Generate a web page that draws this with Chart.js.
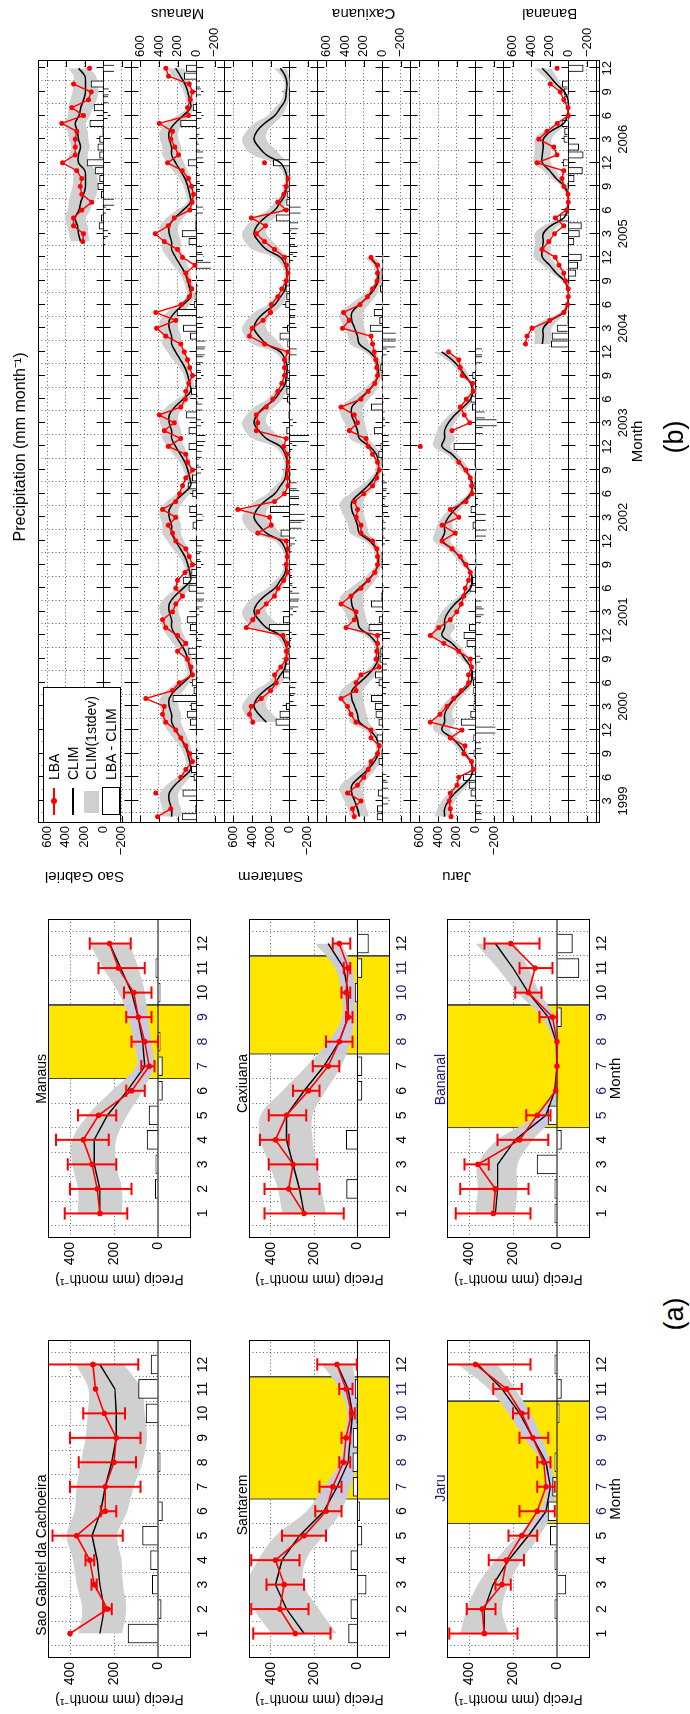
<!DOCTYPE html>
<html>
<head>
<meta charset="utf-8">
<script src="https://cdn.jsdelivr.net/npm/chart.js@4.4.1/dist/chart.umd.min.js"></script>
<style>
  html, body { margin: 0; padding: 0; background: #fff; width: 690px; height: 1714px; overflow: hidden; }
  #fig {
    position: absolute; left: 0; top: 0; width: 1714px; height: 690px;
    transform-origin: 0 0; transform: translate(0, 1714px) rotate(-90deg);
    font-family: "Liberation Sans", Arial, Helvetica, sans-serif; color: #000;
  }
  #fig canvas { position: absolute; }
  .tag { position: absolute; font-size: 27px; line-height: 32px; width: 60px; text-align: center; }
  #legend { position: absolute; left: 891px; top: 43px; width: 136px; height: 78px; box-sizing: border-box;
            border: 1px solid #000; background: #fff; font-size: 14px; }
  #legend div { position: absolute; }
  #legend .tx { left: 42px; line-height: 16px; white-space: nowrap; }
</style>
</head>
<body>
<div id="fig">
  <canvas id="cb" width="894" height="690" style="left:820px;top:0px"></canvas>
  <canvas id="a0" width="390" height="213" style="left:0px;top:23px"></canvas>
  <canvas id="a1" width="390" height="213" style="left:420px;top:23px"></canvas>
  <canvas id="a2" width="390" height="211" style="left:0px;top:224px"></canvas>
  <canvas id="a3" width="390" height="211" style="left:420px;top:224px"></canvas>
  <canvas id="a4" width="390" height="213" style="left:0px;top:422px"></canvas>
  <canvas id="a5" width="390" height="213" style="left:420px;top:422px"></canvas>
  <div id="legend">
    <div style="left:7px;top:9px;width:27px;height:2px;background:#f00"></div>
    <div style="left:17.5px;top:7px;width:6px;height:6px;border-radius:50%;background:#f00"></div>
    <div class="tx" style="top:2px">LBA</div>
    <div style="left:7px;top:28px;width:27px;height:1.6px;background:#000"></div>
    <div class="tx" style="top:21px">CLIM</div>
    <div style="left:9px;top:40px;width:22px;height:15px;background:#cfcfcf"></div>
    <div class="tx" style="top:39px">CLIM(1stdev)</div>
    <div style="left:7px;top:58px;width:28px;height:18px;box-sizing:border-box;border:1px solid #000;background:#fff"></div>
    <div class="tx" style="top:59px">LBA - CLIM</div>
  </div>
  <div class="tag" style="left:370px;top:658px">(a)</div>
  <div class="tag" style="left:1247px;top:658px">(b)</div>
</div>
<script>
const N = null;
const months = [1, 2, 3, 4, 5, 6, 7, 8, 9, 10, 11, 12];

// ---- (a) mean annual cycle per site ----
const sgClim  = [264, 244, 264, 276, 300, 260, 240, 210, 190, 190, 196, 264];
const sgStd   = [100, 100, 105, 110, 115, 120, 130, 140, 140, 130, 120, 110];
const sgLba   = [400, 230, 290, 310, 370, 240, 240, 200, 190, 244, 284, 296];
const sgErrLo = [N, 210, 278, 290, 160, 190, 80, 100, 80, 150, N, 90];
const sgErrHi = [N, 250, 302, 330, 480, 260, 400, 360, 400, 340, N, 500];

const mnClim  = [264, 264, 290, 290, 230, 140, 60, 70, 90, 120, 170, 220];
const mnStd   = [100, 100, 100, 100, 90, 70, 40, 40, 45, 60, 80, 90];
const mnLba   = [264, 276, 300, 340, 270, 120, 40, 60, 90, 110, 180, 220];
const mnErrLo = [140, 120, 190, 224, 190, 60, 16, 0, 30, 30, 60, 124];
const mnErrHi = [424, 400, 410, 464, 364, 144, 76, 120, 144, 154, 270, 310];
const mnDry   = [6.5, 9.5];

const stClim  = [246, 327, 378, 348, 267, 155, 94, 43, 33, 23, 43, 94];
const stStd   = [150, 150, 130, 110, 110, 80, 60, 40, 30, 25, 40, 70];
const stLba   = [287, 358, 338, 378, 246, 145, 114, 64, 53, 27, 53, 94];
const stErrLo = [124, 226, 246, 267, 145, 74, 74, 33, 33, 13, 23, 3];
const stErrHi = [480, 490, 419, 490, 348, 195, 175, 84, 74, 33, 84, 185];
const stDry   = [6.5, 11.5];

const cxClim  = [246, 267, 297, 327, 327, 246, 155, 84, 43, 43, 63, 135];
const cxStd   = [100, 100, 110, 120, 120, 100, 80, 50, 30, 30, 40, 60];
const cxLba   = [246, 317, 297, 378, 327, 226, 135, 84, 43, 53, 43, 84];
const cxErrLo = [63, 175, 185, 317, 236, 175, 84, 23, 23, 33, 33, 33];
const cxErrHi = [429, 429, 409, 449, 409, 297, 206, 145, 53, 74, 63, 114];
const cxDry   = [7.5, 11.5];

const jrClim  = [330, 330, 290, 220, 130, 50, 30, 50, 110, 170, 250, 360];
const jrStd   = [110, 80, 70, 60, 50, 30, 20, 20, 40, 50, 60, 90];
const jrLba   = [330, 340, 250, 230, 160, 90, 50, 60, 110, 160, 230, 370];
const jrErrLo = [180, 280, 210, 150, 90, 10, 10, 30, 40, 130, 160, 120];
const jrErrHi = [490, 410, 280, 310, 220, 170, 90, 90, 170, 200, 290, 500];
const jrDry   = [5.5, 10.5];

const bnClim  = [280, 270, 270, 190, 50, 10, 0, 4, 40, 130, 200, 280];
const bnStd   = [90, 90, 90, 80, 40, 10, 5, 10, 30, 50, 70, 90];
const bnLba   = [290, 280, 360, 170, 90, 6, 0, 0, 20, 130, 100, 210];
const bnErrLo = [120, 130, 310, 40, 30, N, N, N, 0, 70, 20, 80];
const bnErrHi = [460, 440, 420, 270, 140, N, N, N, 80, 190, 170, 330];
const bnDry   = [4.5, 9.5];

// ---- (b) monthly series Jan 1999 (1) .. Dec 2006 (96) ----
const years = [1999, 2000, 2001, 2002, 2003, 2004, 2005, 2006];
const tickMonths = [3, 6, 9, 12];
const stripTicks = [-200, 0, 200, 400, 600];

const sgLbaB = [
  N, N, N, N, N, N, N, N, N, N, N, N,
  N, N, N, N, N, N, N, N, N, N, N, N,
  N, N, N, N, N, N, N, N, N, N, N, N,
  N, N, N, N, N, N, N, N, N, N, N, N,
  N, N, N, N, N, N, N, N, N, N, N, N,
  N, N, N, N, N, N, N, N, N, N, N, N,
  N, 219, 211, 319, 319, 229, 122, 229, 247, 229, 283, 437,
  301, 301, 301, 283, 444, 211, 337, 158, 129, 319, N, 147];
const mnLbaB = [
  416, 272, N, 434, N, 165, 111, 39, 70, 111, 165, 219,
  326, 362, 344, 541, 254, 183, 39, 57, 93, 201, 111, 201,
  326, 362, 254, 219, 147, 219, 201, 120, 39, 75, 111, 219,
  254, 300, 219, 362, 219, 180, 147, 111, 39, 93, 111, 300,
  165, 344, 237, 398, 165, 118, 111, 80, 39, 70, 93, 129,
  165, 326, 427, 219, 434, 161, 75, 47, 80, 111, 14, 147,
  201, 344, 441, 300, 237, 68, 45, 29, 50, 82, 150, 308,
  190, 230, 272, 254, 398, 82, 93, 65, 39, 75, 297, 326];
const stLbaB = [
  N, N, N, N, N, N, N, N, N, N, N, N,
  391, 427, 409, 300, 200, 140, 158, 90, 32, 32, 20, 68,
  462, 391, 337, 247, 158, 120, 60, 14, 32, 20, 14, 32,
  337, 194, 211, 552, 158, 50, 14, 20, 14, 14, 25, 60,
  32, 355, 337, 355, 247, 176, 122, 80, 50, 50, 50, 14,
  265, 427, 398, 283, 200, 194, 122, 80, 32, 14, 30, 50,
  158, 265, 355, 254, 409, 32, 122, 60, 32, 14, N, 265,
  N, N, N, N, N, N, N, N, N, N, N, N];
const cxLbaB = [
  301, 319, 229, 373, 265, 200, 150, 122, 50, 32, 122, 122,
  283, 337, 373, 444, 283, 283, 229, 32, 68, 60, 50, 50,
  391, 300, 283, 444, 337, 229, 150, 80, 50, 50, 60, 104,
  229, 229, 280, 265, 301, 200, 104, 60, 32, 50, 104, 150,
  176, 355, 265, 300, 444, 229, 150, 80, 50, 60, 70, 86,
  104, 122, 427, 355, 416, 240, 158, 104, 57, 50, 50, 122,
  N, N, N, N, N, N, N, N, N, N, N, N,
  N, N, N, N, N, N, N, N, N, N, N, N];
const jrLbaB = [
  262, 269, 280, 269, 197, 179, 18, 40, 125, 110, 269, 143,
  484, 380, 305, 233, 150, 72, 72, 40, 54, 179, 340, 484,
  394, 269, 200, 150, 125, 108, 72, 54, 100, 161, 250, 358,
  215, 358, 179, 269, 100, 36, 40, 54, 100, 179, N, 591,
  N, 251, 60, 118, 161, 97, 21, 30, 140, 161, 179, 287,
  N, N, N, N, N, N, N, N, N, N, N, N,
  N, N, N, N, N, N, N, N, N, N, N, N,
  N, N, N, N, N, N, N, N, N, N, N, N];
const bnLbaB = [
  N, N, N, N, N, N, N, N, N, N, N, N,
  N, N, N, N, N, N, N, N, N, N, N, N,
  N, N, N, N, N, N, N, N, N, N, N, N,
  N, N, N, N, N, N, N, N, N, N, N, N,
  N, N, N, N, N, N, N, N, N, N, N, N,
  462, 444, 391, 200, 50, 10, 0, 0, 30, 50, 100, 140,
  283, 211, 150, 50, 140, 20, 0, 5, 50, 68, 50, 337,
  122, 158, 319, 230, 120, 0, 5, 50, 86, 194, N, 122];

// months covered by the climatology curve in (b)
const sgSpan = [74, 96];
const mnSpan = [1, 96];
const stSpan = [13, 96];
const cxSpan = [1, 72];
const jrSpan = [1, 60];
const bnSpan = [61, 96];

const FONT = '"Liberation Sans", Arial, Helvetica, sans-serif';
Chart.defaults.font.family = FONT;
Chart.defaults.color = '#000';
Chart.defaults.animation = false;

const RED = '#ff0000';
const DOT = 'rgba(0,0,0,0.6)';
const GRAY = '#d0d0d0';
const LAV = '#c8c8de';
const YELLOW = '#ffe600';
const NAVY = '#1c1c70';

function fmt(n) { return n < 0 ? '\u2212' + Math.abs(n) : String(n); }

// ---------- (a) small panels ----------
const panelDecor = {
  id: 'panelDecor',
  afterDatasetsDraw(chart, args, opts) {
    const {ctx, chartArea: a, scales: {x}} = chart;
    ctx.save();
    ctx.strokeStyle = '#000';
    ctx.lineWidth = 1;
    ctx.strokeRect(a.left + 0.5, a.top + 0.5, a.right - a.left - 1, a.bottom - a.top - 1);
    ctx.font = '14px ' + FONT;
    ctx.fillStyle = opts.color;
    ctx.textAlign = 'right';
    ctx.textBaseline = 'alphabetic';
    ctx.fillText(opts.title, x.getPixelForValue(7.5), a.top - 2);
    ctx.restore();
  }
};

function errPoints(lo, hi) {
  const pts = [];
  months.forEach((m, i) => {
    if (lo[i] == null) return;
    pts.push({x: m, y: lo[i]}, {x: m, y: hi[i]}, {x: m, y: null},
             {x: m - 0.25, y: hi[i]}, {x: m + 0.25, y: hi[i]}, {x: m, y: null},
             {x: m - 0.25, y: lo[i]}, {x: m + 0.25, y: lo[i]}, {x: m, y: null});
  });
  return pts;
}

function bandColor(dry) {
  return (c) => {
    const ch = c.chart;
    if (!dry || !ch.chartArea) return GRAY;
    const a = ch.chartArea, x = ch.scales.x;
    const p0 = (x.getPixelForValue(dry[0]) - a.left) / (a.right - a.left);
    const p1 = (x.getPixelForValue(dry[1]) - a.left) / (a.right - a.left);
    const g = ch.ctx.createLinearGradient(a.left, 0, a.right, 0);
    g.addColorStop(0, GRAY); g.addColorStop(p0, GRAY);
    g.addColorStop(p0, LAV); g.addColorStop(p1, LAV);
    g.addColorStop(p1, GRAY); g.addColorStop(1, GRAY);
    return g;
  };
}

function drawPanel(id, p) {
  const inDry = (m) => p.dry && m > p.dry[0] && m < p.dry[1];
  const datasets = [];
  if (p.dry) {
    datasets.push({
      data: [{x: p.dry[0], y: -150}, {x: p.dry[0], y: 500}, {x: p.dry[1], y: 500}, {x: p.dry[1], y: -150}],
      borderColor: '#444', borderWidth: 1, backgroundColor: YELLOW, fill: {value: -150},
      pointRadius: 0, tension: 0, order: 10
    });
  }
  datasets.push({
    data: months.map((m, i) => ({x: m, y: p.clim[i] - p.std[i]})),
    borderWidth: 0, pointRadius: 0, fill: false, tension: 0.35, order: 9
  });
  datasets.push({
    data: months.map((m, i) => ({x: m, y: p.clim[i] + p.std[i]})),
    borderWidth: 0, pointRadius: 0, fill: '-1', backgroundColor: bandColor(p.dry), tension: 0.35, order: 9
  });
  datasets.push({
    type: 'bar',
    data: months.map((m, i) => ({x: m, y: p.lba[i] - p.clim[i]})),
    backgroundColor: '#fff', borderColor: '#000', borderWidth: 1, barThickness: 19, grouped: false, order: 8
  });
  datasets.push({
    data: [{x: 0, y: 0}, {x: 13, y: 0}], borderColor: '#000', borderWidth: 1, pointRadius: 0, order: 7
  });
  datasets.push({
    data: months.map((m, i) => ({x: m, y: p.clim[i]})),
    borderColor: '#000', borderWidth: 1.4, pointRadius: 0, tension: 0, order: 6
  });
  datasets.push({
    data: errPoints(p.lo, p.hi), borderColor: RED, borderWidth: 2, pointRadius: 0, spanGaps: false, order: 5
  });
  datasets.push({
    data: months.map((m, i) => ({x: m, y: p.lba[i]})),
    borderColor: RED, borderWidth: 1.6, pointRadius: 2.8, pointBackgroundColor: RED, pointBorderWidth: 0, order: 4
  });

  new Chart(document.getElementById(id), {
    type: 'line',
    data: {datasets},
    plugins: [panelDecor],
    options: {
      responsive: false, animation: false, events: [],
      layout: {padding: {top: 25, right: p.padR, left: 0, bottom: 0}, autoPadding: false},
      plugins: {legend: {display: false}, tooltip: {enabled: false},
                panelDecor: {title: p.title, color: p.titleColor}},
      scales: {
        x: {
          type: 'linear', min: 0, max: 13, offset: false,
          afterBuildTicks: (s) => { s.ticks = months.map(v => ({value: v})); },
          afterFit: (s) => { s.height = 45; },
          ticks: {autoSkip: false, maxRotation: 0, padding: 4, font: {size: 14},
                  color: (c) => inDry(c.tick.value) ? NAVY : '#000'},
          grid: {color: DOT, lineWidth: 1, drawTicks: false},
          border: {display: false, dash: [1, 2.5]},
          title: {display: p.month, text: 'Month', font: {size: 15}, color: '#000', padding: {top: 0, bottom: 10}}
        },
        y: {
          type: 'linear', min: -150, max: 500,
          afterBuildTicks: (s) => { s.ticks = [0, 200, 400].map(v => ({value: v})); },
          afterFit: (s) => { s.width = 56; },
          ticks: {autoSkip: false, padding: 4, font: {size: 14}},
          grid: {color: (c) => c.tick.value === 0 ? 'rgba(0,0,0,0)' : DOT, drawTicks: false},
          border: {display: false, dash: [1, 2.5]},
          title: {display: true, text: 'Precip (mm month\u207B\u00B9)', font: {size: 14}, color: '#000',
                  padding: {top: 6.6, bottom: 0}}
        }
      }
    }
  });
}

drawPanel('a0', {title: 'Sao Gabriel da Cachoeira', titleColor: '#000', clim: sgClim, std: sgStd, lba: sgLba,
  lo: sgErrLo, hi: sgErrHi, dry: null, padR: 16, month: false});
drawPanel('a1', {title: 'Manaus', titleColor: '#000', clim: mnClim, std: mnStd, lba: mnLba,
  lo: mnErrLo, hi: mnErrHi, dry: mnDry, padR: 15, month: false});
drawPanel('a2', {title: 'Santarem', titleColor: '#000', clim: stClim, std: stStd, lba: stLba,
  lo: stErrLo, hi: stErrHi, dry: stDry, padR: 16, month: false});
drawPanel('a3', {title: 'Caxiuana', titleColor: '#000', clim: cxClim, std: cxStd, lba: cxLba,
  lo: cxErrLo, hi: cxErrHi, dry: cxDry, padR: 15, month: false});
drawPanel('a4', {title: 'Jaru', titleColor: NAVY, clim: jrClim, std: jrStd, lba: jrLba,
  lo: jrErrLo, hi: jrErrHi, dry: jrDry, padR: 16, month: true});
drawPanel('a5', {title: 'Bananal', titleColor: NAVY, clim: bnClim, std: bnStd, lba: bnLba,
  lo: bnErrLo, hi: bnErrHi, dry: bnDry, padR: 15, month: true});

// ---------- (b) stacked monthly series ----------
const sitesB = [
  {name: 'Sao Gabriel', side: 'left',  off: 5000, lba: sgLbaB, clim: sgClim, std: sgStd, span: sgSpan},
  {name: 'Manaus',      side: 'right', off: 4000, lba: mnLbaB, clim: mnClim, std: mnStd, span: mnSpan},
  {name: 'Santarem',    side: 'left',  off: 3000, lba: stLbaB, clim: stClim, std: stStd, span: stSpan},
  {name: 'Caxiuana',    side: 'right', off: 2000, lba: cxLbaB, clim: cxClim, std: cxStd, span: cxSpan},
  {name: 'Jaru',        side: 'left',  off: 1000, lba: jrLbaB, clim: jrClim, std: jrStd, span: jrSpan},
  {name: 'Bananal',     side: 'right', off: 0,    lba: bnLbaB, clim: bnClim, std: bnStd, span: bnSpan}
];
const tickIdx = [];
years.forEach((yr, k) => tickMonths.forEach(t => tickIdx.push(k * 12 + t)));
const yTickVals = [];
sitesB.forEach(s => stripTicks.forEach(t => yTickVals.push(s.off + t)));
const stripOf = (v) => sitesB.find(s => v >= s.off - 300 && v < s.off + 700);

const bSets = [];
sitesB.forEach(s => {
  const lo = [], hi = [], cl = [], bars = [], pts = [];
  for (let m = s.span[0]; m <= s.span[1]; m++) {
    const k = (m - 1) % 12;
    lo.push({x: m, y: s.off + s.clim[k] - s.std[k]});
    hi.push({x: m, y: s.off + s.clim[k] + s.std[k]});
    cl.push({x: m, y: s.off + s.clim[k]});
    const v = s.lba[m - 1];
    pts.push({x: m, y: v == null ? null : s.off + v});
    if (v != null) bars.push({x: m, y: [s.off, s.off + v - s.clim[k]]});
  }
  bSets.push({data: lo, borderWidth: 0, pointRadius: 0, fill: false, tension: 0.4, order: 5});
  bSets.push({data: hi, borderWidth: 0, pointRadius: 0, fill: '-1', backgroundColor: GRAY, tension: 0.4, order: 5});
  bSets.push({type: 'bar', data: bars, backgroundColor: '#fff', borderColor: '#000', borderWidth: 1,
              barThickness: 6.5, grouped: false, order: 4});
  bSets.push({data: cl, borderColor: '#000', borderWidth: 1.5, pointRadius: 0, tension: 0.4, order: 3});
  bSets.push({data: pts, borderColor: RED, borderWidth: 1.4, pointRadius: 2.5, pointBackgroundColor: RED,
              pointBorderWidth: 0, spanGaps: false, order: 2});
});

const strips = {
  id: 'strips',
  beforeDatasetsDraw(chart) {
    const {ctx, chartArea: a, scales: {x, y}} = chart;
    ctx.save();
    ctx.beginPath();
    ctx.rect(a.left, a.top, a.right - a.left, a.bottom - a.top);
    ctx.clip();
    ctx.strokeStyle = '#000';
    ctx.lineWidth = 1;
    ctx.beginPath();
    sitesB.forEach(s => {
      [s.off, s.off - 300].forEach(v => {
        const py = Math.round(y.getPixelForValue(v)) + 0.5;
        ctx.moveTo(a.left, py); ctx.lineTo(a.right, py);
        tickIdx.forEach(m => {
          const px = Math.round(x.getPixelForValue(m)) + 0.5;
          ctx.moveTo(px, py - 7); ctx.lineTo(px, py + 7);
        });
      });
      stripTicks.forEach(t => {
        const py = Math.round(y.getPixelForValue(s.off + t)) + 0.5;
        ctx.moveTo(a.left, py); ctx.lineTo(a.left + 7, py);
        ctx.moveTo(a.right - 7, py); ctx.lineTo(a.right, py);
      });
    });
    tickIdx.forEach(m => {
      const px = Math.round(x.getPixelForValue(m)) + 0.5;
      ctx.moveTo(px, a.top); ctx.lineTo(px, a.top + 7);
      ctx.moveTo(px, a.bottom - 7); ctx.lineTo(px, a.bottom);
    });
    ctx.stroke();
    ctx.restore();
  },
  afterDatasetsDraw(chart) {
    const {ctx, chartArea: a, scales: {y}} = chart;
    ctx.save();
    ctx.strokeStyle = '#000';
    ctx.lineWidth = 1;
    ctx.strokeRect(a.left + 0.5, a.top + 0.5, a.right - a.left - 1, a.bottom - a.top - 1);
    ctx.font = '15px ' + FONT;
    ctx.fillStyle = '#000';
    ctx.textAlign = 'center';
    ctx.textBaseline = 'middle';
    sitesB.forEach(s => {
      const px = s.side === 'left' ? a.left - 53 : a.right + 47;
      ctx.save();
      ctx.translate(px, y.getPixelForValue(s.off + 200));
      ctx.rotate(-Math.PI / 2);
      ctx.fillText(s.name, 0, 0);
      ctx.restore();
    });
    ctx.restore();
  }
};

const yTicks = (side) => ({
  autoSkip: false, padding: 3, font: {size: 13},
  callback: (v) => { const s = stripOf(v); return s && s.side === side ? fmt(v - s.off) : ''; }
});

new Chart(document.getElementById('cb'), {
  type: 'line',
  data: {datasets: bSets},
  plugins: [strips],
  options: {
    responsive: false, animation: false, events: [],
    layout: {padding: 0, autoPadding: false},
    plugins: {
      legend: {display: false}, tooltip: {enabled: false},
      title: {display: true, text: 'Precipitation (mm month\u207B\u00B9)', font: {size: 16, weight: 'normal'},
              color: '#000', padding: {top: 10.9, bottom: 7.9}}
    },
    scales: {
      x: {
        type: 'linear', min: 0.2, max: 97.05, offset: false,
        afterBuildTicks: (s) => { s.ticks = tickIdx.map(v => ({value: v})); },
        afterFit: (s) => { s.height = 90; },
        ticks: {
          autoSkip: false, maxRotation: 0, padding: 0, font: {size: 13},
          callback: (v) => {
            const mo = ((v - 1) % 12) + 1;
            return mo === 3 ? ['3', String(years[Math.floor((v - 1) / 12)])] : String(mo);
          }
        },
        grid: {color: DOT, lineWidth: 1, drawTicks: false},
        border: {display: false, dash: [1, 2.5]},
        title: {display: true, text: 'Month', font: {size: 15}, color: '#000', padding: {top: 0, bottom: 43}}
      },
      y: {
        type: 'linear', position: 'left', min: -340, max: 5700,
        afterBuildTicks: (s) => { s.ticks = yTickVals.map(v => ({value: v})); },
        afterFit: (s) => { s.width = 71; },
        ticks: yTicks('left'),
        grid: {color: (c) => { const s = stripOf(c.tick.value); return s && c.tick.value === s.off ? 'rgba(0,0,0,0)' : DOT; },
               drawTicks: false},
        border: {display: false, dash: [1, 2.5]}
      },
      yR: {
        type: 'linear', position: 'right', min: -340, max: 5700,
        afterBuildTicks: (s) => { s.ticks = yTickVals.map(v => ({value: v})); },
        afterFit: (s) => { s.width = 60; },
        ticks: yTicks('right'),
        grid: {drawOnChartArea: false, drawTicks: false},
        border: {display: false}
      }
    }
  }
});
</script>
</body>
</html>
